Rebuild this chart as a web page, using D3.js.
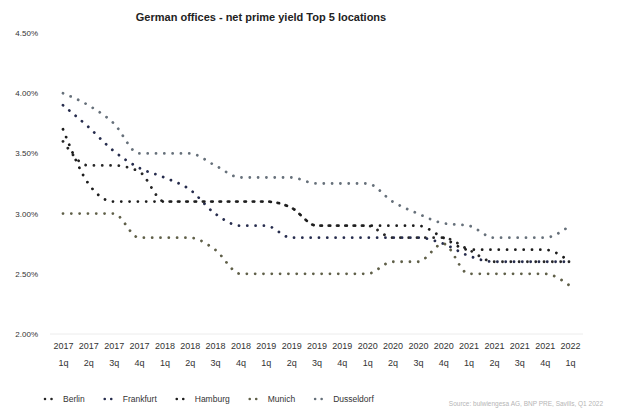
<!DOCTYPE html>
<html>
<head>
<meta charset="utf-8">
<script src="https://cdn.jsdelivr.net/npm/d3@7"></script>
<style>
  html, body { margin: 0; padding: 0; background: #fff; }
  svg { display: block; font-family: "Liberation Sans", Arial, sans-serif; }
</style>
</head>
<body>
<svg id="chart" width="617" height="410"></svg>
<script>
// Quarters shown on the x axis
const years    = ["2017","2017","2017","2017","2018","2018","2018","2018","2019","2019","2019","2019",
                  "2020","2020","2020","2020","2021","2021","2021","2021","2022"];
const quarters = ["1q","2q","3q","4q","1q","2q","3q","4q","1q","2q","3q","4q",
                  "1q","2q","3q","4q","1q","2q","3q","4q","1q"];

// Net prime office yields (%) per city
const berlin     = [3.60,3.40,3.40,3.35,3.10,3.10,3.10,3.10,3.10,3.05,2.90,2.90,2.90,2.80,2.80,2.80,2.70,2.60,2.60,2.60,2.60];
const frankfurt  = [3.90,3.72,3.52,3.38,3.30,3.20,3.00,2.90,2.90,2.80,2.80,2.80,2.80,2.80,2.80,2.75,2.65,2.60,2.60,2.60,2.60];
const hamburg    = [3.70,3.25,3.10,3.10,3.10,3.10,3.10,3.10,3.10,3.05,2.90,2.90,2.90,2.90,2.90,2.80,2.70,2.70,2.70,2.70,2.60];
const munich     = [3.00,3.00,3.00,2.80,2.80,2.80,2.70,2.50,2.50,2.50,2.50,2.50,2.50,2.60,2.60,2.75,2.50,2.50,2.50,2.50,2.40];
const dusseldorf = [4.00,3.90,3.75,3.50,3.50,3.50,3.40,3.30,3.30,3.30,3.25,3.25,3.25,3.10,3.00,2.92,2.90,2.80,2.80,2.80,2.90];

const seriesNames  = ["Berlin","Frankfurt","Hamburg","Munich","Dusseldorf"];
const seriesValues = [berlin, frankfurt, hamburg, munich, dusseldorf];
const seriesColors = ["#262626","#262c4d","#1c1c1c","#5f5f48","#66707a"];

const yTicks = [2.0, 2.5, 3.0, 3.5, 4.0, 4.5];

const svg = d3.select("#chart");

const x = d3.scalePoint().domain(d3.range(quarters.length)).range([63, 570]);
const y = d3.scaleLinear().domain([2.0, 4.5]).range([334, 33]);

// Title
svg.append("text")
  .attr("x", 261).attr("y", 21)
  .attr("text-anchor", "middle")
  .style("font-family", "'Liberation Sans Narrow', 'Arial Narrow', 'Liberation Sans', sans-serif")
  .style("font-weight", "bold")
  .style("font-size", "11px")
  .attr("fill", "#222")
  .text("German offices - net prime yield Top 5 locations");

// Faint baseline at 2.00%
svg.append("line")
  .attr("x1", 50).attr("x2", 583)
  .attr("y1", y(2.0)).attr("y2", y(2.0))
  .attr("stroke", "#ececec").attr("stroke-width", 1);

// Y axis
const yAxis = svg.append("g")
  .attr("transform", "translate(38,0)")
  .call(d3.axisLeft(y).tickValues(yTicks).tickSize(0).tickPadding(0)
        .tickFormat(d => d.toFixed(2) + "%"));
yAxis.select(".domain").remove();
yAxis.selectAll("text").style("font-size", "8px").attr("fill", "#333");

// X axis: year on the first line, quarter on the second
const xAxis = svg.append("g")
  .attr("transform", `translate(0,${y(2.0)})`)
  .call(d3.axisBottom(x).tickSize(0).tickFormat(""));
xAxis.select(".domain").remove();
xAxis.selectAll(".tick").each(function(d) {
  const t = d3.select(this).append("text")
    .attr("text-anchor", "middle")
    .attr("fill", "#333")
    .style("font-size", "9px");
  t.append("tspan").attr("x", 0).attr("y", 15).text(years[d]);
  t.append("tspan").attr("x", 0).attr("y", 32).text(quarters[d]);
});

// Dotted, smoothed lines
const line = d3.line()
  .x((d, i) => x(i))
  .y(d => y(d))
  .curve(d3.curveMonotoneX);

svg.append("g").selectAll("path")
  .data(seriesValues)
  .join("path")
  .attr("d", line)
  .attr("fill", "none")
  .attr("stroke", (d, i) => seriesColors[i])
  .attr("stroke-width", 2.8)
  .attr("stroke-linecap", "round")
  .attr("stroke-dasharray", "0.01 8.3");

// Legend
const legend = svg.append("g").attr("transform", "translate(44,402)");
let lx = 0;
seriesNames.forEach((name, i) => {
  const g = legend.append("g").attr("transform", `translate(${lx},0)`);
  g.append("line")
    .attr("x1", 1).attr("x2", 14).attr("y1", -3).attr("y2", -3)
    .attr("stroke", seriesColors[i])
    .attr("stroke-width", 2.6)
    .attr("stroke-linecap", "round")
    .attr("stroke-dasharray", "0.01 6.5");
  const t = g.append("text")
    .attr("x", 19).attr("y", 0)
    .attr("fill", "#333")
    .style("font-size", "8.5px")
    .text(name);
  lx += 19 + t.node().getComputedTextLength() + 19;
});

// Source note
svg.append("text")
  .attr("x", 603).attr("y", 406)
  .attr("text-anchor", "end")
  .attr("fill", "#b5b5b5")
  .style("font-size", "6.5px")
  .text("Source: bulwiengesa AG, BNP PRE, Savills, Q1 2022");
</script>
</body>
</html>
